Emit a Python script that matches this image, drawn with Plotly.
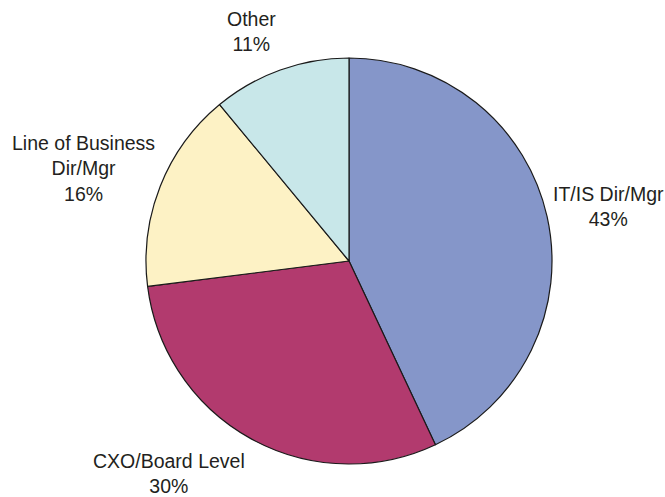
import plotly.graph_objects as go

# Data
labels = ["IT/IS Dir/Mgr", "CXO/Board Level", "Line of Business<br>Dir/Mgr", "Other"]
values = [43, 30, 16, 11]

# Style
colors = ["#8596C9", "#B23A6E", "#FDF2C5", "#C8E7E9"]
W, H = 665, 497
label_pos = [(608, 207), (169, 473), (83, 168), (251, 32)]  # pixel centres of outside labels

cx, cy, r = 349, 261, 203

fig = go.Figure(go.Pie(
    labels=labels,
    values=values,
    sort=False,
    direction="clockwise",
    rotation=0,
    marker=dict(colors=colors, line=dict(color="#1a1a1a", width=1.2)),
    textinfo="none",
    hoverinfo="label+percent",
    showlegend=False,
    domain=dict(x=[(cx - r) / W, (cx + r) / W], y=[(H - cy - r) / H, (H - cy + r) / H]),
))

total = sum(values)
for lab, val, (px, py) in zip(labels, values, label_pos):
    fig.add_annotation(
        x=px / W, y=1 - py / H, xref="paper", yref="paper",
        text=f"{lab}<br>{round(100 * val / total)}%",
        showarrow=False, xanchor="center", yanchor="middle", align="center",
        font=dict(family="Liberation Sans, Arial, sans-serif", size=19.5, color="#231F20"),
    )

fig.update_layout(
    width=W, height=H,
    margin=dict(l=0, r=0, t=0, b=0),
    paper_bgcolor="white", plot_bgcolor="white",
)

fig.write_html(
    "out.html",
    config={"displayModeBar": False},
    post_script="document.body.style.margin='0';document.body.style.overflow='hidden';",
)
